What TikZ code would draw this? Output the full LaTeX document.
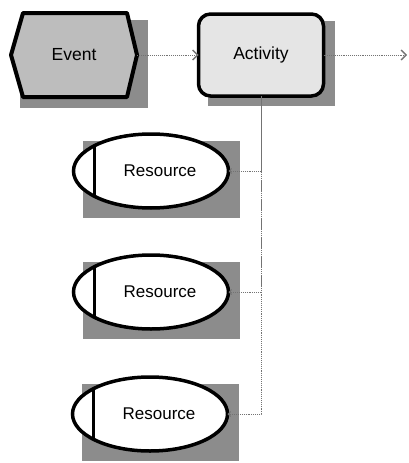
\documentclass[tikz,border=0pt]{standalone}
\usepackage{fontspec}
\setmainfont{Liberation Sans}
\usetikzlibrary{shapes.geometric,arrows.meta}
\pgfdeclarelayer{bg}
\pgfsetlayers{bg,main}
\definecolor{shadowc}{gray}{0.55}
\definecolor{eventc}{gray}{0.74}
\definecolor{actc}{gray}{0.90}
\definecolor{connc}{gray}{0.45}
\tikzset{
  evbox/.style={rectangle,minimum width=126pt,minimum height=85pt,inner sep=0pt,outer sep=0pt,font=\fontsize{17.5}{20}\selectfont},
  actbox/.style={rectangle,rounded corners=12pt,draw=black,line width=3.5pt,fill=actc,minimum width=125pt,minimum height=82pt,inner sep=0pt,outer sep=0pt,font=\fontsize{17.5}{20}\selectfont},
  resbox/.style={ellipse,draw=black,line width=3.5pt,fill=white,minimum width=155pt,minimum height=74pt,inner sep=0pt,outer sep=0pt,font=\fontsize{17}{20}\selectfont,
    path picture={\draw[line width=3pt] ([xshift=21pt]path picture bounding box.north west) -- ([xshift=21pt]path picture bounding box.south west);}},
  conn/.style={draw=connc,line width=0.9pt,densely dotted},
  tip/.style={-{Straight Barb[length=5pt,width=10pt,line width=1.3pt]}},
  smalltip/.style={{Straight Barb[length=2.5pt,width=5pt,line width=0.9pt]}-},
}
\newcommand{\shadowof}[1]{\begin{pgfonlayer}{bg}\fill[shadowc] ([shift={(9,7)}]#1.west |- #1.north) rectangle ([shift={(11,10)}]#1.east |- #1.south);\end{pgfonlayer}}
\newcommand{\restext}{\hspace*{18pt}Resource}
\begin{document}
\begin{tikzpicture}[x=1pt,y=-1pt]
\useasboundingbox (0,0) rectangle (408,463);
% Event
\node[evbox] (ev) at (74,55) {};
\shadowof{ev}
\fill[eventc,draw=black,line width=4pt,line join=round] (23,13) -- (127,13) -- (137,55) -- (127,97) -- (23,97) -- (11,55) -- cycle;
\node[evbox] (evt) at (ev.center) {Event};
% Activity
\node[actbox] (act) at (261,55) {Activity};
\shadowof{act}
% Resources
\node[resbox] (r1) at (151,171) {\restext};
\shadowof{r1}
\node[resbox] (r2) at (151,292) {\restext};
\shadowof{r2}
\node[resbox] (r3) at (150,414) {\restext};
\shadowof{r3}
\coordinate (out) at (407,55);
% connectors
\draw[conn,tip] (ev.east) -- (act.west);
\draw[conn,tip] (act.east) -- (out);
\draw[conn,smalltip] (r1.east) -| (act.south);
\draw[conn,smalltip] (r2.east) -| (act.south);
\draw[conn,smalltip] (r3.east) -| (act.south);
\end{tikzpicture}
\end{document}
